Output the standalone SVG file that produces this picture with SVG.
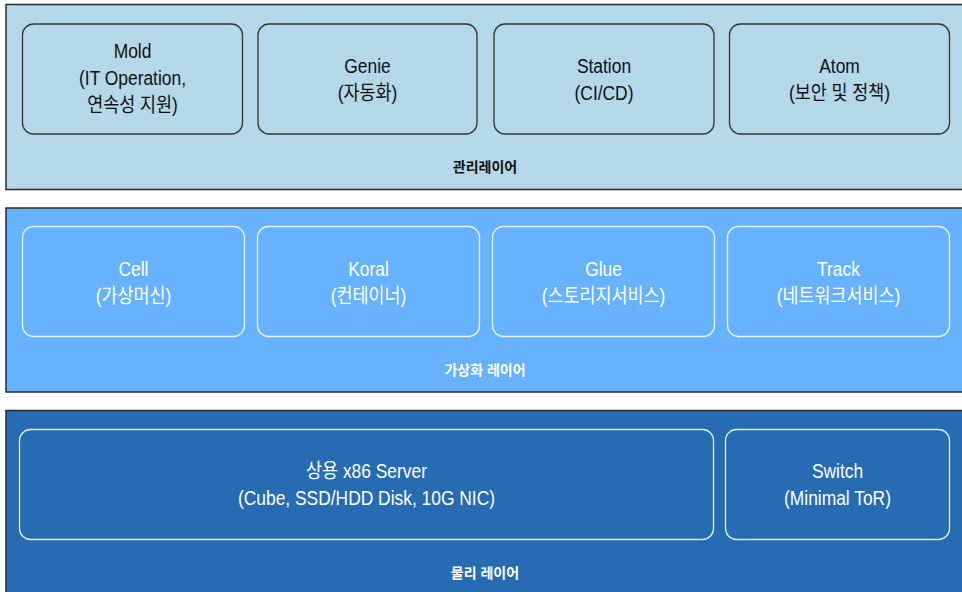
<svg xmlns="http://www.w3.org/2000/svg" width="962" height="592" viewBox="0 0 962 592">
<style>
text{font-family:"Liberation Sans","Noto Sans CJK KR",sans-serif;text-anchor:middle}
.n{font-size:20px}
.lbl{font-size:14px;font-weight:bold}
.dark{fill:#111}
.light{fill:#ffffff}
.layer{stroke:#2a2a2a;stroke-width:1.5}
.tn{fill:#b4d8e8;stroke:#333;stroke-width:1.3}
.vn{fill:#66b2ff;stroke:#e8f2ff;stroke-width:1.3}
.pn{fill:#276bb2;stroke:#e0ecf8;stroke-width:1.3}
</style>
<rect width="962" height="592" fill="#ffffff"/>
<g id="layer-mgmt">
<rect class="layer" x="6" y="4.5" width="960" height="185" fill="#b4d8e8"/>
<text class="lbl dark" x="485" y="172">관리레이어</text>
</g>
<g id="node-mold">
<rect class="tn" x="22.5" y="24" width="220" height="110" rx="11"/>
<g transform="translate(132.5 0) scale(0.87 1)">
<text class="n dark" x="0" y="58">Mold</text>
<text class="n dark" x="0" y="85">(IT Operation,</text>
<text class="n dark" x="0" y="112">연속성 지원)</text>
</g>
</g>
<g id="node-genie">
<rect class="tn" x="258" y="24" width="219" height="110" rx="11"/>
<g transform="translate(367.5 0) scale(0.87 1)">
<text class="n dark" x="0" y="73">Genie</text>
<text class="n dark" x="0" y="100">(자동화)</text>
</g>
</g>
<g id="node-station">
<rect class="tn" x="494" y="24" width="220" height="110" rx="11"/>
<g transform="translate(604 0) scale(0.87 1)">
<text class="n dark" x="0" y="73">Station</text>
<text class="n dark" x="0" y="100">(CI/CD)</text>
</g>
</g>
<g id="node-atom">
<rect class="tn" x="729.5" y="24" width="220" height="110" rx="11"/>
<g transform="translate(839.5 0) scale(0.87 1)">
<text class="n dark" x="0" y="73">Atom</text>
<text class="n dark" x="0" y="100">(보안 및 정책)</text>
</g>
</g>
<g id="layer-virt">
<rect class="layer" x="6" y="208" width="960" height="184" fill="#66b2ff"/>
<text class="lbl light" x="485" y="375">가상화 레이어</text>
</g>
<g id="node-cell">
<rect class="vn" x="22.5" y="226.5" width="222" height="110" rx="11"/>
<g transform="translate(133.5 0) scale(0.87 1)">
<text class="n light" x="0" y="276">Cell</text>
<text class="n light" x="0" y="303">(가상머신)</text>
</g>
</g>
<g id="node-koral">
<rect class="vn" x="257.5" y="226.5" width="222" height="110" rx="11"/>
<g transform="translate(368.5 0) scale(0.87 1)">
<text class="n light" x="0" y="276">Koral</text>
<text class="n light" x="0" y="303">(컨테이너)</text>
</g>
</g>
<g id="node-glue">
<rect class="vn" x="492.5" y="226.5" width="222" height="110" rx="11"/>
<g transform="translate(603.5 0) scale(0.87 1)">
<text class="n light" x="0" y="276">Glue</text>
<text class="n light" x="0" y="303">(스토리지서비스)</text>
</g>
</g>
<g id="node-track">
<rect class="vn" x="727.5" y="226.5" width="222" height="110" rx="11"/>
<g transform="translate(838.5 0) scale(0.87 1)">
<text class="n light" x="0" y="276">Track</text>
<text class="n light" x="0" y="303">(네트워크서비스)</text>
</g>
</g>
<g id="layer-phys">
<rect class="layer" x="6" y="410.5" width="960" height="190" fill="#276bb2"/>
<text class="lbl light" x="485" y="578">물리 레이어</text>
</g>
<g id="node-server">
<rect class="pn" x="19.5" y="429.5" width="694" height="110" rx="11"/>
<g transform="translate(366.5 0) scale(0.87 1)">
<text class="n light" x="0" y="478">상용 x86 Server</text>
<text class="n light" x="0" y="505">(Cube, SSD/HDD Disk, 10G NIC)</text>
</g>
</g>
<g id="node-switch">
<rect class="pn" x="725.5" y="429.5" width="224" height="110" rx="11"/>
<g transform="translate(837.5 0) scale(0.87 1)">
<text class="n light" x="0" y="478">Switch</text>
<text class="n light" x="0" y="505">(Minimal ToR)</text>
</g>
</g>
<g id="connectors"></g>
</svg>
